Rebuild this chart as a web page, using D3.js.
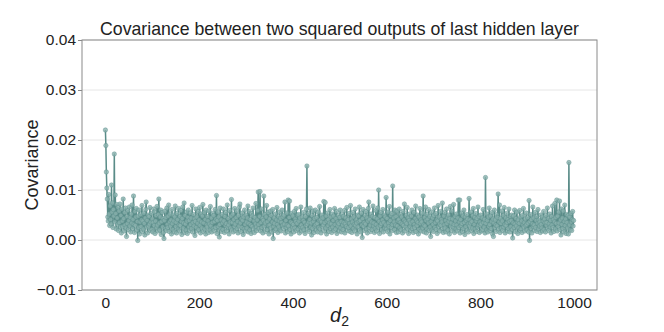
<!DOCTYPE html>
<html>
<head>
<meta charset="utf-8">
<script src="https://cdn.jsdelivr.net/npm/d3@7"></script>
<style>
  body { margin: 0; background: #fff; }
  svg text { font-family: "Liberation Sans", Arial, sans-serif; fill: #222; }
</style>
</head>
<body>
<div id="chart"></div>
<script>
'use strict';

// covariance values, in units of 1e-3, one per d2 index (0..999)
var covariance = [
  22.0, 18.9, 13.6, 10.4, 8.2, 4.6, 3.8, 9.1, 5.2, 2.9, 6.8, 4.1, 3.2, 11.0, 5.6, 7.4, 2.5, 6.1, 4.8, 17.2, 3.6, 9.0, 5.3, 2.2, 7.1,
  4.4, 3.1, 6.5, 1.9, 5.8, 3.5, 7.2, 2.6, 4.9, 1.4, 6.2, 3.8, 2.7, 8.2, 4.3, 1.8, 5.5, 3.0, 6.4, 2.4, 0.7, 4.7, 3.3, 5.9, 2.1,
  3.9, 6.6, 2.8, 4.5, 1.6, 5.2, 3.4, 7.0, 2.3, 4.1, 8.8, 3.1, 1.5, 5.7, 2.9, 4.6, 6.3, 2.0, 3.7, -0.1, 4.8, 2.5, 6.0, 1.2, 3.6,
  5.1, 2.7, 4.0, 6.9, 1.7, 3.8, 2.2, 5.4, 3.3, 1.0, 4.4, 6.1, 7.6, 2.6, 3.9, 1.4, 5.0, 2.8, 4.7, 3.2, 6.5, 1.9, 3.6, 5.3, 2.1,
  4.2, 1.6, 3.5, 6.2, 2.9, 5.6, 1.3, 3.8, 4.9, 2.4, 6.7, 3.0, 1.8, 5.1, 8.2, 3.4, 2.0, 4.6, 6.0, 1.1, 3.7, 5.5, 2.6, 4.3, 1.5,
  0.3, 3.9, 5.8, 2.3, 4.5, 1.9, 6.4, 3.1, 2.5, 4.8, 7.0, 1.7, 3.6, 5.2, 2.8, 4.0, 1.2, 6.1, 3.3, 2.1, 5.0, 3.8, 1.6, 4.6, 6.8,
  2.7, 3.5, 1.4, 5.3, 4.1, 2.2, 6.3, 3.0, 1.8, 4.7, 2.9, 5.9, 3.7, 1.1, 4.3, 6.6, 2.4, 3.4, 7.4, 1.5, 4.9, 3.2, 2.0, 5.6, 3.8,
  1.3, 4.5, 6.0, 2.6, 3.9, 1.9, 5.4, 3.1, 4.4, 2.3, 6.9, 1.6, 3.5, 5.1, 2.8, 4.2, 0.9, 3.7, 6.2, 2.5, 4.6, 1.8, 3.3, 5.7, 2.1,
  4.0, 6.5, 2.9, 1.4, 5.2, 3.6, 2.4, 4.8, 7.1, 1.7, 3.4, 5.5, 2.2, 4.1, 1.2, 6.0, 3.0, 2.6, 4.7, 3.8, 1.5, 5.8, 3.2, 2.0, 6.7,
  2.8, 4.4, 1.6, 3.5, 5.3, 2.3, 4.9, 1.9, 3.7, 6.1, 2.5, 4.2, 8.9, 1.3, 3.9, 5.6, 2.7, 4.6, 0.6, 3.1, 6.4, 2.2, 4.0, 1.7, 5.1,
  3.4, 2.1, 6.2, 3.8, 1.5, 4.7, 2.9, 5.5, 3.3, 1.8, 7.0, 2.6, 4.3, 3.0, 1.2, 5.9, 3.6, 2.4, 4.8, 8.1, 2.0, 3.5, 5.2, 1.6, 4.1,
  2.7, 6.3, 3.2, 1.9, 4.5, 5.8, 2.3, 3.7, 1.4, 4.9, 2.8, 6.6, 7.2, 3.4, 1.7, 4.2, 2.5, 5.4, 3.9, 1.1, 4.6, 2.2, 6.0, 3.1, 1.8,
  5.0, 3.6, 2.4, 4.4, 6.8, 1.6, 3.3, 5.7, 2.0, 4.1, 3.0, 1.3, 5.3, 2.7, 4.8, 6.4, 2.2, 3.8, 1.5, 4.5, 3.2, 7.3, 2.6, 1.9, 4.0,
  5.9, 9.6, 3.1, 2.3, 4.7, 9.7, 1.8, 3.5, 6.2, 2.5, 4.3, 1.4, 3.9, 8.8, 2.8, 5.1, 3.4, 1.7, 4.6, 6.9, 2.1, 3.7, 5.5, 2.9, 1.2,
  4.2, 3.0, 5.8, 2.4, 4.9, 1.6, 3.6, 6.1, 0.3, 2.7, 4.4, 3.3, 1.9, 5.2, 2.2, 4.0, 6.5, 3.1, 1.5, 4.7, 2.6, 3.8, 5.6, 2.0, 4.3,
  1.8, 3.5, 6.0, 2.9, 4.6, 2.3, 5.0, 3.2, 7.6, 1.4, 3.9, 2.5, 5.4, 3.0, 1.7, 8.0, 2.8, 4.5, 7.8, 2.1, 3.6, 1.2, 5.3, 3.4, 2.6,
  4.8, 3.1, 1.6, 5.7, 2.4, 4.2, 3.7, 6.3, 1.9, 3.3, 4.9, 2.2, 5.1, 3.8, 1.4, 4.4, 2.7, 6.6, 3.0, 1.8, 4.6, 2.5, 3.9, 5.5, 2.0,
  3.5, 1.3, 4.7, 2.9, 6.2, 14.8, 3.2, 2.1, 5.3, 3.6, 1.7, 4.1, 6.4, 2.6, 3.4, 1.0, 4.9, 2.3, 5.8, 3.7, 1.5, 4.3, 2.8, 6.0, 3.1,
  2.0, 4.5, 3.3, 1.6, 5.6, 2.5, 3.9, 6.7, 2.2, 4.0, 1.4, 3.6, 5.0, 2.7, 4.4, 3.0, 7.7, 1.8, 3.5, 7.5, 2.4, 4.8, 1.2, 3.8, 5.4,
  2.9, 4.1, 1.7, 3.4, 6.1, 2.3, 4.6, 3.2, 1.5, 5.2, 2.6, 3.9, 4.8, 1.9, 6.3, 3.1, 2.2, 4.3, 5.7, 1.3, 3.6, 2.8, 4.9, 3.3, 1.8,
  4.5, 6.0, 2.4, 3.7, 1.6, 5.1, 3.0, 2.1, 4.7, 3.5, 5.9, 1.4, 3.2, 4.4, 2.7, 6.5, 3.8, 1.9, 4.1, 2.5, 5.3, 3.3, 1.7, 6.9, 2.8,
  4.2, 1.5, 3.6, 5.5, 2.3, 4.6, 3.1, 1.8, 6.2, 2.9, 4.0, 3.4, 1.2, 5.0, 2.6, 4.8, 3.7, 6.6, 2.0, 3.9, 1.6, 5.4, 3.0, 0.5, 4.3,
  6.1, 2.7, 3.5, 1.9, 4.9, 3.2, 5.7, 2.2, 4.4, 1.4, 3.8, 6.3, 7.6, 2.5, 4.1, 3.0, 1.7, 5.2, 3.6, 2.1, 4.7, 6.8, 2.8, 3.4, 1.5,
  4.5, 2.3, 5.9, 3.1, 1.8, 4.2, 6.4, 2.6, 10.0, 3.7, 1.3, 4.8, 2.9, 5.5, 3.3, 2.0, 4.0, 6.1, 1.6, 3.5, 5.0, 2.4, 4.6, 3.0, 8.5,
  2.2, 4.3, 1.7, 5.6, 3.4, 2.7, 6.7, 1.2, 3.9, 4.9, 2.5, 5.3, 3.1, 10.8, 1.9, 4.4, 3.6, 2.1, 6.0, 3.0, 4.7, 1.5, 5.8, 2.8, 3.8,
  1.6, 4.1, 6.2, 2.4, 3.5, 5.1, 2.0, 4.6, 3.2, 1.4, 5.7, 2.9, 4.0, 7.2, 1.8, 3.6, 2.6, 4.9, 3.3, 6.5, 2.2, 4.4, 1.3, 3.9, 5.2,
  2.7, 3.4, 1.9, 4.8, 6.0, 2.3, 3.7, 1.5, 5.5, 3.1, 2.5, 4.3, 6.8, 1.7, 3.8, 2.9, 5.0, 3.5, 1.2, 4.6, 2.1, 6.3, 3.3, 4.0, 1.8,
  3.6, 5.4, 2.4, 8.8, 3.0, 1.6, 4.5, 2.8, 6.6, 3.9, 1.4, 5.1, 2.2, 4.2, 3.4, 6.1, 1.9, 4.7, 2.6, 0.7, 3.7, 5.6, 2.0, 4.4, 3.1,
  1.7, 4.9, 6.4, 2.5, 3.5, 5.3, 2.1, 4.0, 1.3, 3.8, 6.9, 2.7, 4.6, 3.2, 1.8, 5.7, 2.9, 4.1, 3.6, 7.4, 2.3, 1.5, 4.8, 3.0, 5.5,
  2.4, 3.9, 1.6, 6.2, 3.3, 4.5, 2.0, 5.0, 3.7, 1.2, 4.3, 6.7, 2.8, 3.4, 5.8, 1.9, 4.2, 2.6, 7.1, 3.1, 1.5, 4.7, 3.8, 2.2, 5.2,
  3.0, 1.8, 4.4, 8.0, 2.5, 3.6, 8.0, 1.4, 4.1, 2.9, 5.4, 3.3, 1.7, 4.8, 2.3, 6.0, 3.5, 1.1, 4.6, 2.7, 3.9, 5.1, 2.0, 4.2, 3.2,
  1.6, 8.3, 2.8, 4.0, 3.4, 5.6, 1.9, 3.7, 2.4, 4.9, 6.3, 1.3, 3.1, 4.5, 2.2, 5.3, 3.8, 1.7, 4.3, 2.6, 6.6, 3.0, 4.7, 1.5, 3.6,
  2.9, 5.0, 3.2, 1.8, 4.4, 2.1, 6.1, 3.5, 2.6, 4.1, 1.4, 12.5, 3.3, 2.0, 5.2, 3.9, 1.6, 4.6, 2.7, 6.4, 3.1, 1.9, 4.8, 2.3, 3.7,
  5.5, 1.2, 4.2, 0.7, 3.4, 6.0, 2.5, 4.0, 3.0, 1.7, 5.1, 2.8, 4.5, 9.2, 2.2, 3.6, 7.0, 1.5, 4.3, 3.3, 2.4, 5.8, 3.8, 1.9, 4.9,
  2.6, 6.5, 3.1, 1.4, 4.4, 2.9, 5.3, 3.5, 1.8, 4.1, 2.3, 6.2, 3.7, 1.6, 4.7, 2.7, 3.9, 5.0, 2.1, 0.4, 3.4, 4.8, 2.5, 6.0, 3.2,
  1.7, 4.3, 2.8, 5.6, 3.6, 1.3, 4.0, 2.4, 3.3, 5.9, 1.9, 4.6, 2.2, 3.8, 1.5, 4.9, 3.0, 6.3, 2.6, 3.5, 1.8, 4.2, 2.9, 5.4, 3.1,
  2.0, 4.5, 3.4, 1.6, 7.9, -0.1, 3.7, 5.1, 2.3, 4.1, 1.4, 3.2, 6.6, 2.7, 4.4, 3.0, 1.9, 5.5, 2.5, 3.9, 4.7, 1.7, 3.3, 6.1, 2.2,
  4.0, 2.8, 3.6, 1.5, 5.0, 3.1, 2.4, 4.6, 1.8, 3.8, 5.7, 2.1, 4.2, 3.4, 1.6, 4.9, 2.9, 3.5, 6.4, 2.3, 4.3, 1.9, 3.2, 5.2, 2.6,
  3.9, 1.4, 4.7, 3.0, 6.8, 2.5, 4.1, 1.7, 3.6, 7.3, 2.2, 4.5, 3.3, 8.0, 1.8, 4.8, 2.7, 5.6, 3.4, 7.8, 2.1, 4.0, 1.0, 6.2, 3.1,
  4.4, 2.3, 5.8, 1.6, 3.7, 7.0, 2.9, 4.2, 1.3, 5.1, 3.5, 2.4, 4.9, 1.2, 15.5, 3.0, 4.6, 2.0, 5.3, 3.6, 1.9, 4.1, 5.7, 2.8, 3.9
];

var xTicks = [0, 200, 400, 600, 800, 1000];
var yTicks = [-10, 0, 10, 20, 30, 40];   // 1e-3 units, shown as -0.01 .. 0.04

var chartTitle = "Covariance between two squared outputs of last hidden layer";
var yTitle = "Covariance";

var W = 664, H = 332;
var margin = { left: 82, right: 67, top: 40, bottom: 42 };
var lineColor = "#5a8c88";

var svg = d3.select("#chart").append("svg")
    .attr("width", W)
    .attr("height", H);

svg.append("rect").attr("width", W).attr("height", H).attr("fill", "#fff");

// matplotlib-style 5% padding on x
var n = covariance.length;
var pad = (n - 1) * 0.05;
var x = d3.scaleLinear()
    .domain([-pad, n - 1 + pad])
    .range([margin.left, W - margin.right]);

var y = d3.scaleLinear()
    .domain([-10, 40])
    .range([H - margin.bottom, margin.top]);

var fmtY = function (d) {
    var s = (d / 1000).toFixed(2);
    return s.replace("-", "\u2212");
};

// horizontal grid
svg.append("g")
    .selectAll("line")
    .data(yTicks)
    .enter().append("line")
    .attr("x1", margin.left).attr("x2", W - margin.right)
    .attr("y1", function (d) { return y(d); })
    .attr("y2", function (d) { return y(d); })
    .attr("stroke", "#e6e6e6")
    .attr("stroke-width", 1);

// y axis
var yAxis = svg.append("g")
    .attr("transform", "translate(" + margin.left + ",0)")
    .call(d3.axisLeft(y).tickValues(yTicks).tickFormat(fmtY).tickSize(4).tickPadding(2));
yAxis.select(".domain").remove();
yAxis.selectAll("line").attr("stroke", "#888");
yAxis.selectAll("text")
    .style("font-size", "15.5px")
    .attr("fill", "#1a1a1a");

// x axis
var xAxis = svg.append("g")
    .attr("transform", "translate(0," + (H - margin.bottom) + ")")
    .call(d3.axisBottom(x).tickValues(xTicks).tickFormat(d3.format("d")).tickSize(0).tickPadding(7));
xAxis.select(".domain").remove();
xAxis.selectAll("text")
    .style("font-size", "15.5px")
    .attr("fill", "#1a1a1a");

// series
var line = d3.line()
    .x(function (d, i) { return x(i); })
    .y(function (d) { return y(d); });

svg.append("path")
    .datum(covariance)
    .attr("d", line)
    .attr("fill", "none")
    .attr("stroke", lineColor)
    .attr("stroke-width", 1.5)
    .attr("stroke-linejoin", "round");

svg.append("g")
    .selectAll("circle")
    .data(covariance)
    .enter().append("circle")
    .attr("cx", function (d, i) { return x(i); })
    .attr("cy", function (d) { return y(d); })
    .attr("r", 2.2)
    .attr("fill", "#8ab1ae")
    .attr("fill-opacity", 0.8)
    .attr("stroke", lineColor)
    .attr("stroke-opacity", 0.7)
    .attr("stroke-width", 0.6);

// frame
svg.append("rect")
    .attr("x", margin.left)
    .attr("y", margin.top)
    .attr("width", W - margin.left - margin.right)
    .attr("height", H - margin.top - margin.bottom)
    .attr("fill", "none")
    .attr("stroke", "#8a8a8a")
    .attr("stroke-width", 1);

// titles
svg.append("text")
    .attr("x", (margin.left + W - margin.right) / 2)
    .attr("y", 35)
    .attr("text-anchor", "middle")
    .style("font-size", "17.7px")
    .text(chartTitle);

svg.append("text")
    .attr("transform", "translate(38," + ((margin.top + H - margin.bottom) / 2) + ") rotate(-90)")
    .attr("text-anchor", "middle")
    .style("font-size", "18px")
    .text(yTitle);

var xl = svg.append("text")
    .attr("x", (margin.left + W - margin.right) / 2)
    .attr("y", 322)
    .attr("text-anchor", "middle")
    .style("font-size", "20px");
xl.append("tspan").style("font-style", "italic").text("d");
xl.append("tspan").attr("dy", 4).style("font-size", "14px").text("2");
</script>
</body>
</html>
